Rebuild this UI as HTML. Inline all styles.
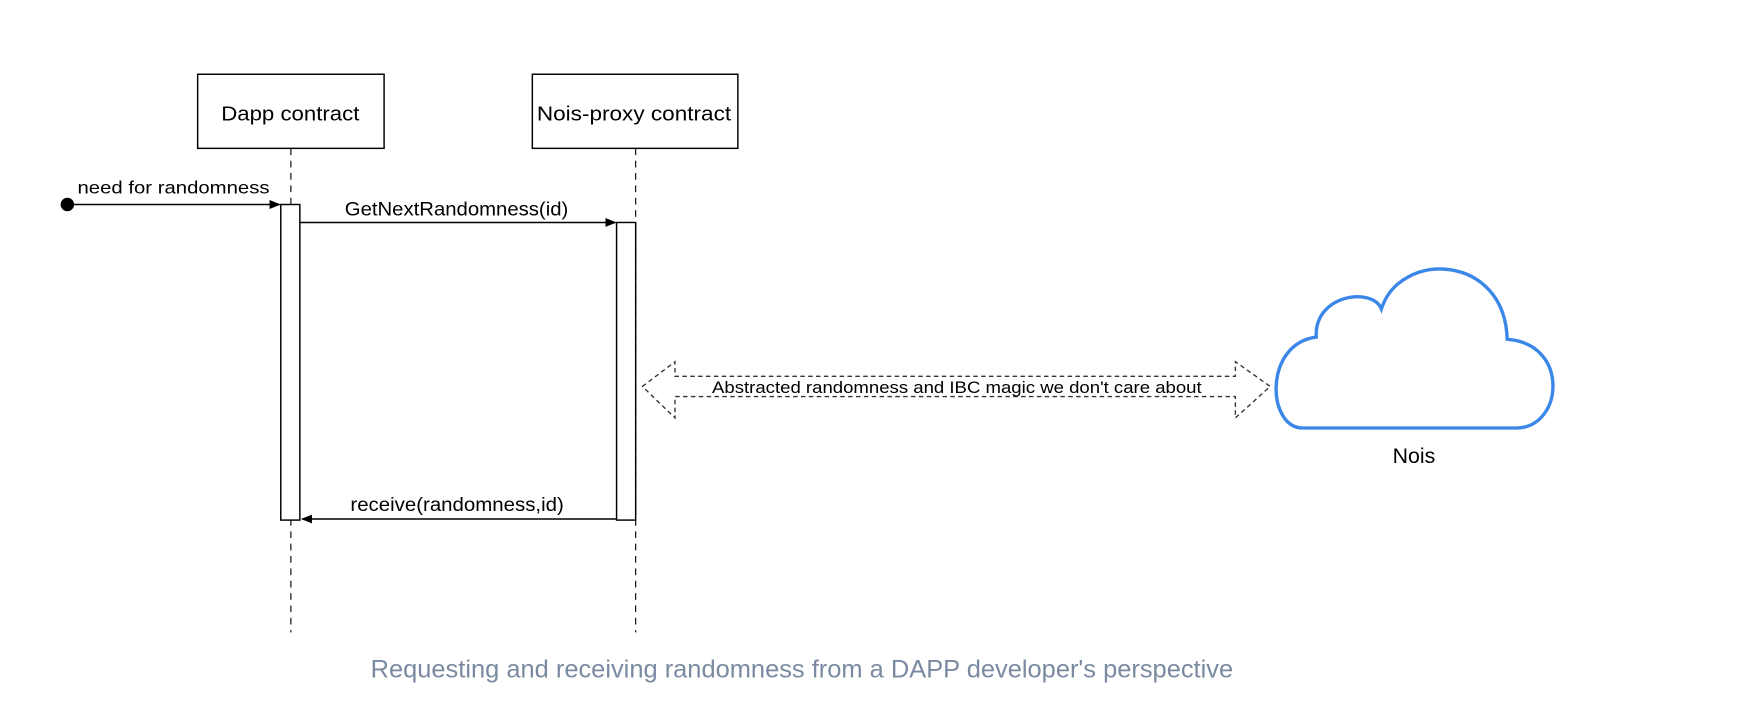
<!DOCTYPE html>
<html><head><meta charset="utf-8"><style>
html,body{margin:0;padding:0;background:#fff;}
svg{display:block}
text{font-family:"Liberation Sans",Arial,sans-serif;}
</style></head><body>
<svg width="1752" height="710" viewBox="0 0 1560 632" xmlns="http://www.w3.org/2000/svg">
<defs>
<marker id="ah" markerWidth="10" markerHeight="10" refX="9" refY="5" orient="auto" markerUnits="userSpaceOnUse">
<path d="M0,1 L10,5 L0,9 Z" fill="#000"/></marker>
</defs>
<rect x="176" y="66" width="166" height="66" fill="#fff" stroke="#000" stroke-width="1.3"/>
<text x="197" y="107" font-size="18" textLength="123" lengthAdjust="spacingAndGlyphs">Dapp contract</text>
<rect x="474" y="66" width="183" height="66" fill="#fff" stroke="#000" stroke-width="1.3"/>
<text x="478" y="107" font-size="18" textLength="173" lengthAdjust="spacingAndGlyphs">Nois-proxy contract</text>
<line x1="259" y1="132" x2="259" y2="563" stroke="#000" stroke-dasharray="6,5"/>
<line x1="566" y1="132" x2="566" y2="563" stroke="#000" stroke-dasharray="6,5"/>
<rect x="250" y="182" width="17" height="281" fill="#fff" stroke="#000" stroke-width="1.3"/>
<rect x="549" y="198" width="17" height="265" fill="#fff" stroke="#000" stroke-width="1.3"/>
<circle cx="60" cy="182" r="6" fill="#000"/>
<line x1="60" y1="182" x2="249" y2="182" stroke="#000" stroke-width="1.3" marker-end="url(#ah)"/>
<text x="69" y="172" font-size="16" textLength="171" lengthAdjust="spacingAndGlyphs">need for randomness</text>
<line x1="267" y1="198" x2="548" y2="198" stroke="#000" stroke-width="1.3" marker-end="url(#ah)"/>
<text x="307" y="192" font-size="17" textLength="199" lengthAdjust="spacingAndGlyphs">GetNextRandomness(id)</text>
<line x1="549" y1="462" x2="269" y2="462" stroke="#000" stroke-width="1.3" marker-end="url(#ah)"/>
<text x="312" y="455" font-size="17" textLength="190" lengthAdjust="spacingAndGlyphs">receive(randomness,id)</text>
<path d="M572,344 L601,322 L601,335 L1100,335 L1100,322 L1131,344 L1100,372 L1100,353 L601,353 L601,372 Z" fill="#fff" stroke="#333" stroke-width="1.2" stroke-dasharray="4,3"/>
<rect x="632" y="336" width="440" height="16" fill="#fff"/>
<text x="634" y="350" font-size="15" textLength="436" lengthAdjust="spacingAndGlyphs">Abstracted randomness and IBC magic we don't care about</text>
<path d="M1160,381 C1128,381 1125,306 1172,300 C1170,262 1222,255 1230,275 C1247,222 1340,226 1342,302 C1398,306 1392,381 1350,381 Z" fill="#fff" stroke="#3a87e8" stroke-width="3"/>
<text x="1240" y="412" font-size="19" textLength="38" lengthAdjust="spacingAndGlyphs">Nois</text>
<text x="330" y="603" font-size="22" fill="#7a8aa0" textLength="768" lengthAdjust="spacingAndGlyphs">Requesting and receiving randomness from a DAPP developer's perspective</text>
</svg>
</body></html>
